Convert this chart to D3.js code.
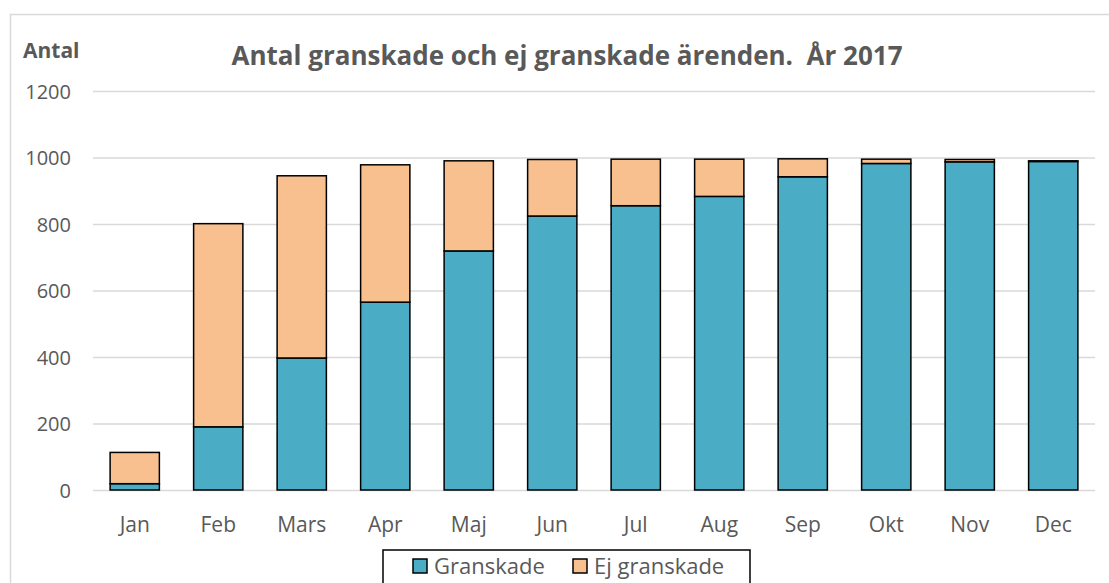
<!DOCTYPE html>
<html lang="sv">
<head>
<meta charset="utf-8">
<script src="https://cdn.jsdelivr.net/npm/d3@7"></script>
<style>
    body { margin: 0; background: #fff; }
    text { font-family: "Open Sans", sans-serif; }
</style>
</head>
<body>
<script type="text/javascript">

    /* data */
    var months = ["Jan", "Feb", "Mars", "Apr", "Maj", "Jun", "Jul", "Aug", "Sep", "Okt", "Nov", "Dec"];
    var granskade = [19, 190, 397, 565, 719, 824, 855, 883, 942, 982, 987, 988];
    var ejGranskade = [94, 611, 548, 413, 271, 170, 140, 112, 54, 13, 7, 2];
    var yTicks = [0, 200, 400, 600, 800, 1000, 1200];
    var seriesNames = ["Granskade", "Ej granskade"];
    var colors = ["#4BACC6", "#F9C08F"];

    var svgWidth = 1109;
    var svgHeight = 583;

    var svg = d3.select("body").append("svg")
            .attr("width", svgWidth)
            .attr("height", svgHeight);

    /* outer chart border */
    svg.append("rect")
            .attr("x", 10.5).attr("y", 14.5)
            .attr("width", 1120).attr("height", 600)
            .style("fill", "none")
            .style("stroke", "#D9D9D9")
            .style("stroke-width", 1.5);

    var margin = {top: 91, right: 14, bottom: 93, left: 93};
    var chartWidth = svgWidth - margin.left - margin.right;
    var chartHeight = svgHeight - margin.top - margin.bottom;

    var x = d3.scaleBand()
            .domain(months)
            .range([0, chartWidth])
            .paddingInner(0.41)
            .paddingOuter(0.205);

    var y = d3.scaleLinear()
            .domain([0, 1200])
            .range([chartHeight, 0]);

    var g = svg.append("g")
            .attr("transform", "translate(" + margin.left + ", " + margin.top + ")");

    /* grid lines */
    g.append("g")
            .call(d3.axisLeft(y).tickValues(yTicks).tickSize(-chartWidth).tickFormat(""))
            .call(function(s) {
                s.select(".domain").remove();
                s.selectAll("line").style("stroke", "#D9D9D9").style("stroke-width", 1.5);
            });

    /* y labels */
    g.append("g")
            .call(d3.axisLeft(y).tickValues(yTicks).tickSize(0).tickPadding(22).tickFormat(d3.format("d")))
            .call(function(s) {
                s.select(".domain").remove();
                s.selectAll("text")
                        .style("font-size", "20px")
                        .style("fill", "#595959")
                        .attr("dy", "0.36em");
            });

    /* x labels */
    g.append("g")
            .attr("transform", "translate(0, " + chartHeight + ")")
            .call(d3.axisBottom(x).tickSize(0).tickPadding(27))
            .call(function(s) {
                s.select(".domain").remove();
                s.selectAll("text")
                        .style("font-size", "21px")
                        .style("fill", "#595959");
            });

    /* stacked bars */
    var table = months.map(function(m, i) {
        return {month: m, Granskade: granskade[i], "Ej granskade": ejGranskade[i]};
    });
    var stack = d3.stack().keys(seriesNames)(table);

    g.selectAll(".series")
            .data(stack)
            .enter()
            .append("g")
            .attr("class", "series")
            .style("fill", function(d, i) { return colors[i]; })
            .selectAll("rect")
            .data(function(d) { return d; })
            .enter()
            .append("rect")
            .attr("x", function(d) { return x(d.data.month); })
            .attr("y", function(d) { return y(d[1]); })
            .attr("width", x.bandwidth())
            .attr("height", function(d) { return y(d[0]) - y(d[1]); })
            .style("stroke", "#000")
            .style("stroke-width", 1.5);

    /* title */
    svg.append("text")
            .attr("x", 567).attr("y", 65)
            .attr("text-anchor", "middle")
            .style("font-size", "26px")
            .style("font-weight", "bold")
            .style("fill", "#595959")
            .style("white-space", "pre")
            .text("Antal granskade och ej granskade ärenden.  År 2017");

    svg.append("text")
            .attr("x", 23).attr("y", 58)
            .style("font-size", "21px")
            .style("font-weight", "bold")
            .style("fill", "#595959")
            .text("Antal");

    /* legend */
    var legend = svg.append("g");
    legend.append("rect")
            .attr("x", 383).attr("y", 550)
            .attr("width", 367).attr("height", 50)
            .style("fill", "#fff")
            .style("stroke", "#000")
            .style("stroke-width", 1.5);

    var legendX = [413, 573];
    var item = legend.selectAll(".item")
            .data(seriesNames)
            .enter()
            .append("g")
            .attr("transform", function(d, i) { return "translate(" + legendX[i] + ", 559)"; });

    item.append("rect")
            .attr("width", 14).attr("height", 14)
            .style("fill", function(d, i) { return colors[i]; })
            .style("stroke", "#000")
            .style("stroke-width", 1.5);

    item.append("text")
            .attr("x", 21).attr("y", 15)
            .style("font-size", "22px")
            .style("fill", "#595959")
            .text(function(d) { return d; });

</script>
</body>
</html>
